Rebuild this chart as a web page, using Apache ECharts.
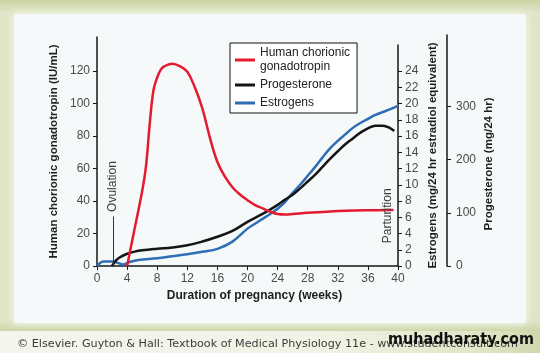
<!DOCTYPE html>
<html>
<head>
<meta charset="utf-8">
<script src="https://cdn.jsdelivr.net/npm/echarts@6/dist/echarts.min.js"></script>
<style>
  html, body { margin: 0; padding: 0; }
  #frame { position: relative; width: 540px; height: 353px; overflow: hidden;
    background: linear-gradient(to bottom, #cbd3a3 0px, #dfe5c6 12px, #dfe5c6 320px, #cfd7ac 330px, #cfd7ac 353px); }
  #panel { position: absolute; left: 14px; top: 14px; width: 512px; height: 309px;
    background: #f5f9fa; border-radius: 3px; box-shadow: 0 0 6px 2px #eef3e2; }
  #foot { position: absolute; left: 0; top: 331px; width: 540px; height: 22px;
    background: linear-gradient(to right, #f4f5ec 0%, #f1f3e6 60%, #dfe5c4 90%, #cfd7ac 100%); }
  #container { position: absolute; left: 0; top: 0; width: 540px; height: 353px; }
</style>
</head>
<body>
<div id="frame">
  <div id="panel"></div>
  <div id="foot"></div>
  <div id="container"></div>
</div>
<script>
// 数据：hCG (IU/mL)
var hcgWeeks = [4, 5, 6, 6.5, 7, 7.5, 8, 8.5, 9, 10, 11, 12, 13, 14, 15, 16, 17, 18, 19, 20, 21, 22, 23, 24, 25, 26, 28, 30, 33, 36, 39.4];
var hcgValues = [0, 23, 46, 61, 87, 108, 116, 121, 123, 124.5, 123, 119.5, 110, 97, 79, 64, 55, 48.5, 44, 40.5, 37.5, 35.5, 33.5, 32, 31.7, 32, 32.8, 33.3, 34, 34.3, 34.4];

// 孕酮 (mg/24 hr)
var progWeeks = [2, 2.5, 3, 4, 5, 6, 8, 10, 12, 14, 16, 18, 20, 22, 23, 24, 25, 26, 27, 28, 29, 30, 31, 32, 33, 34, 35, 36, 37, 38, 39, 39.5];
var progValues = [0, 10, 16, 23, 27, 29.5, 32.5, 35, 39, 46, 55, 66, 83, 98, 106, 115, 125, 134, 146, 159, 172, 187, 202, 216, 229, 240, 251, 259, 264, 264, 259, 254];

// 雌激素 (mg/24 hr estradiol equivalent)
var estWeeks = [0, 0.9, 2, 3.5, 4.2, 5.5, 8, 10, 12, 14, 16, 18, 20, 21, 22, 23, 24, 25, 26, 27, 28, 29, 30, 31, 32, 33, 34, 35, 36, 37, 38, 39, 40];
var estValues = [0, 0.55, 0.55, 0.2, 0.45, 0.75, 0.95, 1.2, 1.45, 1.75, 2.1, 3.0, 4.6, 5.2, 5.8, 6.4, 7.05, 7.9, 9.0, 10.0, 11.1, 12.2, 13.4, 14.5, 15.4, 16.2, 17.0, 17.6, 18.1, 18.6, 18.95, 19.3, 19.7];

// 刻度
var hcgMax = 120, hcgStep = 20;
var estMax = 24, estStep = 2;
var progTicks = [0, 100, 200, 300];
var weekMax = 40, weekStep = 4;

function pairs(xs, ys) {
    return xs.map(function (x, i) { return [x, ys[i]]; });
}

var FONT = '"Liberation Sans", Arial, sans-serif';
var LINE = { color: '#161616', width: 1.5 };
var nameStyle = { fontFamily: FONT, fontWeight: 'bold', fontSize: 11.5, color: '#1e1e1e' };

var myChart = echarts.init(document.getElementById('container'), null, { renderer: 'canvas' });

// 只画刻度和标签的轴 (都放在 grid 0)
function tickAxis(max, step, pos, offset, margin) {
    return {
        gridIndex: 0, type: 'value', position: pos, offset: offset,
        min: 0, max: max, interval: step,
        axisLine: { show: false, onZero: false },
        axisTick: { show: true, length: 4, lineStyle: { color: '#161616', width: 1 } },
        axisLabel: { color: '#4a4a4a', fontFamily: FONT, fontSize: 12, margin: margin },
        splitLine: { show: false }
    };
}
// 只画轴线和轴名的轴
function lineAxis(grid, name, pos, offset, gap) {
    return {
        gridIndex: grid, type: 'value', position: pos, offset: offset,
        min: 0, max: 1,
        name: name, nameLocation: 'middle', nameRotate: 90, nameGap: gap,
        nameTextStyle: Object.assign({}, nameStyle),
        axisLine: { show: true, onZero: false, lineStyle: LINE },
        axisTick: { show: false },
        axisLabel: { show: false },
        splitLine: { show: false }
    };
}

// 孕酮轴: 300 对应 159.4px，grid 0 高 195px
var yProgTicks = tickAxis(367, 100, 'right', 49, 9);
yProgTicks.axisTick.customValues = progTicks;
yProgTicks.axisLabel.customValues = progTicks;

var yProgName = lineAxis(3, 'Progesterone (mg/24 hr)', 'right', 49, 36);
yProgName.nameTextStyle.padding = [0, 27, 0, 0];

var sides = { left: 97, right: 142, bottom: 87 };
function grid(top) { return Object.assign({ top: top }, sides); }
function hiddenX(g) { return { gridIndex: g, type: 'value', min: 0, max: weekMax, show: false }; }

myChart.setOption({
    animation: false,
    grid: [grid(71), grid(37), grid(45), grid(35)],
    xAxis: [
        {
            gridIndex: 0, type: 'value', min: 0, max: weekMax, interval: weekStep,
            name: 'Duration of pregnancy (weeks)',
            nameLocation: 'middle',
            nameGap: 22,
            nameTextStyle: Object.assign({ padding: [0, 0, 0, 14] }, nameStyle, { fontSize: 12 }),
            axisLine: { onZero: false, lineStyle: LINE },
            axisTick: { length: 4, lineStyle: { color: '#161616', width: 1 } },
            axisLabel: { color: '#4a4a4a', fontFamily: FONT, fontSize: 12, margin: 7 },
            splitLine: { show: false }
        },
        hiddenX(1), hiddenX(2), hiddenX(3)
    ],
    yAxis: [
        tickAxis(hcgMax, hcgStep, 'left', 0, 7),
        tickAxis(estMax, estStep, 'right', 0, 7),
        yProgTicks,
        lineAxis(1, 'Human chorionic gonadotropin (IU/mL)', 'left', 0, 37),
        lineAxis(2, 'Estrogens (mg/24 hr estradiol equivalent)', 'right', 0, 29),
        yProgName
    ],
    legend: {
        orient: 'vertical',
        left: 230,
        top: 43,
        padding: [3, 7, 3, 5],
        itemGap: 4,
        itemWidth: 20,
        itemHeight: 3,
        icon: 'rect',
        borderColor: '#111',
        borderWidth: 1,
        backgroundColor: '#ffffff',
        borderRadius: 0,
        textStyle: { fontFamily: FONT, fontSize: 12, color: '#222', lineHeight: 14 },
        formatter: function (name) {
            return name === 'Human chorionic gonadotropin' ? 'Human chorionic\ngonadotropin' : name;
        },
        data: ['Human chorionic gonadotropin', 'Progesterone', 'Estrogens']
    },
    series: [
        {
            name: 'Human chorionic gonadotropin',
            type: 'line',
            xAxisIndex: 0,
            yAxisIndex: 0,
            data: pairs(hcgWeeks, hcgValues),
            smooth: 0.4,
            clip: false,
            symbol: 'none',
            z: 4,
            lineStyle: { color: '#e41b2f', width: 2.5 },
            itemStyle: { color: '#e41b2f' },
            markLine: {
                silent: true,
                symbol: 'none',
                label: { show: false },
                lineStyle: { color: '#333', width: 1, type: 'solid' },
                data: [[{ coord: [2.1, 0] }, { coord: [2.1, 30.5] }]]
            },
            markPoint: {
                silent: true,
                symbolSize: 0,
                label: {
                    show: true,
                    position: 'inside',
                    rotate: 90,
                    formatter: '{b}',
                    fontFamily: FONT,
                    fontSize: 12,
                    color: '#3a3a3a'
                },
                data: [
                    { name: 'Ovulation', coord: [2.1, 48.9] },
                    { name: 'Parturition', coord: [38.6, 30.9] }
                ]
            }
        },
        {
            name: 'Progesterone',
            type: 'line',
            xAxisIndex: 0,
            yAxisIndex: 2,
            data: pairs(progWeeks, progValues),
            smooth: 0.4,
            symbol: 'none',
            z: 3,
            lineStyle: { color: '#151515', width: 2.5 },
            itemStyle: { color: '#151515' }
        },
        {
            name: 'Estrogens',
            type: 'line',
            xAxisIndex: 0,
            yAxisIndex: 1,
            data: pairs(estWeeks, estValues),
            smooth: 0.4,
            symbol: 'none',
            z: 2,
            lineStyle: { color: '#2f6db4', width: 2.5 },
            itemStyle: { color: '#2f6db4' }
        }
    ],
    graphic: [
        {
            type: 'text',
            left: 17,
            top: 339,
            style: {
                text: '© Elsevier. Guyton & Hall: Textbook of Medical Physiology 11e - www.studentconsult.com',
                font: '11.2px "DejaVu Sans", sans-serif',
                fill: '#3c3c3c'
            }
        },
        {
            type: 'text',
            right: 6,
            top: 332,
            style: {
                text: 'muhadharaty.com',
                font: 'bold 16px "DejaVu Sans Condensed", "DejaVu Sans", sans-serif',
                fill: '#111'
            }
        }
    ]
});
</script>
</body>
</html>
